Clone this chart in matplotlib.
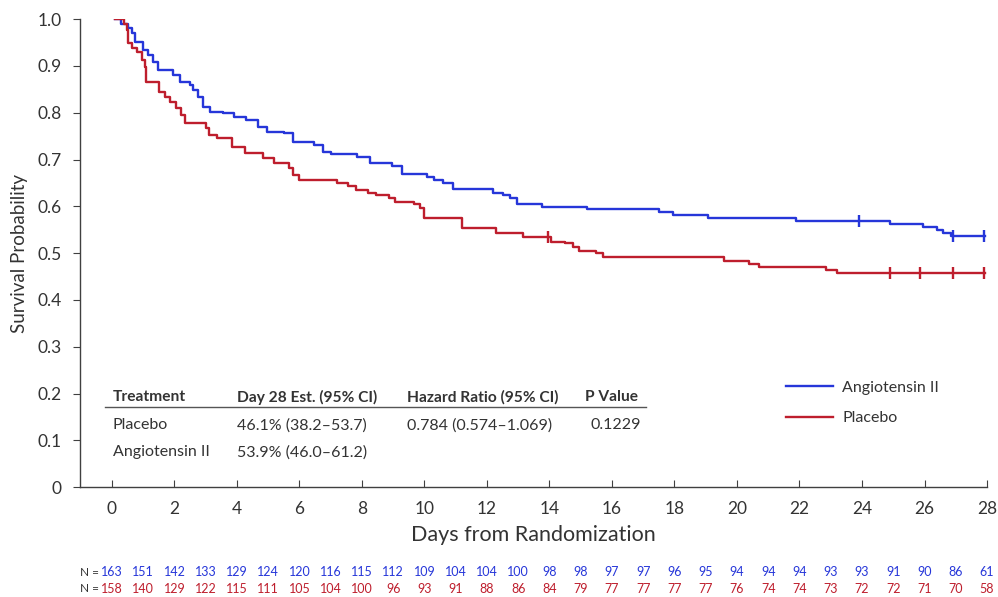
import matplotlib
matplotlib.use("Agg")
import matplotlib.pyplot as plt
import matplotlib.transforms as mtransforms

plt.rcParams['font.family'] = ['Lato', 'DejaVu Sans']

# ---------------- data ----------------
angio_times = [0.1, 0.3, 0.5, 0.64, 0.74, 1.0, 1.15, 1.3, 1.47, 1.95, 2.18, 2.5, 2.6, 2.75,
               2.9, 3.14, 3.55, 3.9, 4.3, 4.67, 4.95, 5.5, 5.8, 6.45, 6.75, 7.0, 7.83, 8.26,
               8.96, 9.28, 10.08, 10.3, 10.6, 10.9, 12.2, 12.5, 12.75, 12.95, 13.76, 15.2,
               17.5, 17.95, 19.07, 21.9, 24.9, 25.95, 26.4, 26.6, 26.85, 27.95]
angio_surv = [1.0, 0.99, 0.98, 0.97, 0.951, 0.934, 0.923, 0.908, 0.891, 0.88, 0.865, 0.859,
              0.848, 0.833, 0.812, 0.801, 0.799, 0.79, 0.784, 0.769, 0.759, 0.756, 0.737,
              0.731, 0.716, 0.712, 0.705, 0.692, 0.686, 0.669, 0.662, 0.656, 0.65, 0.637,
              0.628, 0.624, 0.617, 0.605, 0.598, 0.594, 0.588, 0.581, 0.575, 0.568, 0.562,
              0.556, 0.549, 0.543, 0.536, 0.536]
angio_cens_t = [23.9, 26.9, 27.9]
angio_cens_s = [0.568, 0.536, 0.536]

plac_times = [0.1, 0.4, 0.48, 0.52, 0.65, 0.8, 0.96, 1.06, 1.1, 1.5, 1.7, 1.85, 2.05, 2.2,
              2.35, 3.0, 3.1, 3.35, 3.85, 4.25, 4.85, 5.2, 5.65, 5.8, 6.0, 7.2, 7.55, 7.8,
              8.2, 8.45, 8.85, 9.05, 9.65, 9.85, 10.0, 11.2, 12.3, 13.15, 14.05, 14.5,
              14.75, 14.95, 15.5, 15.7, 19.6, 20.4, 20.7, 22.85, 23.2, 27.95]
plac_surv = [1.0, 0.99, 0.976, 0.949, 0.938, 0.93, 0.912, 0.897, 0.866, 0.844, 0.833, 0.823,
             0.81, 0.795, 0.778, 0.767, 0.752, 0.745, 0.727, 0.714, 0.703, 0.692, 0.682,
             0.667, 0.656, 0.65, 0.643, 0.635, 0.628, 0.624, 0.617, 0.609, 0.605, 0.596,
             0.575, 0.553, 0.543, 0.534, 0.524, 0.521, 0.513, 0.504, 0.5, 0.491, 0.483,
             0.476, 0.47, 0.464, 0.457, 0.457]
plac_cens_t = [13.95, 24.9, 25.86, 26.9, 27.9]
plac_cens_s = [0.534, 0.457, 0.457, 0.457, 0.457]

risk_days = list(range(0, 29))
angio_risk = [163, 151, 142, 133, 129, 124, 120, 116, 115, 112, 109, 104, 104, 100, 98, 98,
              97, 97, 96, 95, 94, 94, 94, 93, 93, 91, 90, 86, 61]
plac_risk = [158, 140, 129, 122, 115, 111, 105, 104, 100, 96, 93, 91, 88, 86, 84, 79, 77, 77,
             77, 77, 76, 74, 74, 73, 72, 72, 71, 70, 58]

x_ticks = list(range(0, 29, 2))
y_ticks = [0, 0.1, 0.2, 0.3, 0.4, 0.5, 0.6, 0.7, 0.8, 0.9, 1.0]
y_ticklabels = ['0', '0.1', '0.2', '0.3', '0.4', '0.5', '0.6', '0.7', '0.8', '0.9', '1.0']

table_header = ['Treatment', 'Day 28 Est. (95% CI)', 'Hazard Ratio (95% CI)', 'P Value']
table_row1 = ['Placebo', '46.1% (38.2\u201353.7)', '0.784 (0.574\u20131.069)', '0.1229']
table_row2 = ['Angiotensin II', '53.9% (46.0\u201361.2)', '', '']

BLUE = '#2636D9'
RED = '#BE1E2D'
GRAY = '#333333'

# ---------------- figure ----------------
fig = plt.figure(figsize=(9.98, 5.97), dpi=100)
ax = fig.add_axes([0.0802, 0.184, 0.9088, 0.784])

ax.plot(angio_times, angio_surv, drawstyle='steps-post', color=BLUE, lw=1.7,
        label='Angiotensin II')
ax.plot(plac_times, plac_surv, drawstyle='steps-post', color=RED, lw=1.7, label='Placebo')
ax.plot(angio_cens_t, angio_cens_s, ls='none', marker='|', ms=9, mew=1.7, color=BLUE)
ax.plot(plac_cens_t, plac_cens_s, ls='none', marker='|', ms=9, mew=1.7, color=RED)

ax.set_xlim(-1.02, 28)
ax.set_ylim(0, 1.0)
ax.set_xticks(x_ticks)
ax.set_yticks(y_ticks)
ax.set_yticklabels(y_ticklabels)
for s in ['top', 'right']:
    ax.spines[s].set_visible(False)
for s in ['left', 'bottom']:
    ax.spines[s].set_color('#404040')
    ax.spines[s].set_linewidth(1.0)
ax.tick_params(axis='x', direction='in', length=5, color='#404040', labelsize=12.5,
               labelcolor=GRAY, pad=10)
ax.tick_params(axis='y', direction='out', length=5, color='#404040', labelsize=12.5,
               labelcolor=GRAY, pad=8)

ax.set_xlabel('Days from Randomization', fontsize=15.5, color=GRAY, labelpad=6)
ax.set_ylabel('Survival Probability', fontsize=13.5, color=GRAY, labelpad=7)

leg = ax.legend(loc='upper left', bbox_to_anchor=(0.762, 0.258), frameon=False,
                fontsize=11.5, handlelength=3.0, handletextpad=0.55, labelspacing=1.0)
for t in leg.get_texts():
    t.set_color(GRAY)

# table
col_x = [0.03, 4.0, 9.44, 15.14]
for x, s in zip(col_x, table_header):
    ax.text(x, 0.192, s, fontsize=11.2, fontweight='bold', color=GRAY, va='center', ha='left')
ax.plot([-0.22, 17.09], [0.171, 0.171], color='#555555', lw=1.0)
col_x2 = [0.03, 4.0, 9.44, 15.3]
for x, s in zip(col_x2, table_row1):
    ax.text(x, 0.132, s, fontsize=11.5, color=GRAY, va='center', ha='left')
for x, s in zip(col_x2, table_row2):
    if s:
        ax.text(x, 0.075, s, fontsize=11.5, color=GRAY, va='center', ha='left')

# number at risk
trans = mtransforms.blended_transform_factory(ax.transData, fig.transFigure)
y_blue = 1 - 572 / 597
y_red = 1 - 589 / 597
for d, n in zip(risk_days, angio_risk):
    ax.text(d, y_blue, str(n), transform=trans, fontsize=9, color=BLUE, ha='center',
            va='center', clip_on=False)
for d, n in zip(risk_days, plac_risk):
    ax.text(d, y_red, str(n), transform=trans, fontsize=9, color=RED, ha='center',
            va='center', clip_on=False)
ax.text(-0.4, y_blue, 'N =', transform=trans, fontsize=8.5, color=GRAY, ha='right',
        va='center', clip_on=False)
ax.text(-0.4, y_red, 'N =', transform=trans, fontsize=8.5, color=GRAY, ha='right',
        va='center', clip_on=False)

fig.savefig('out.png', dpi=100)
